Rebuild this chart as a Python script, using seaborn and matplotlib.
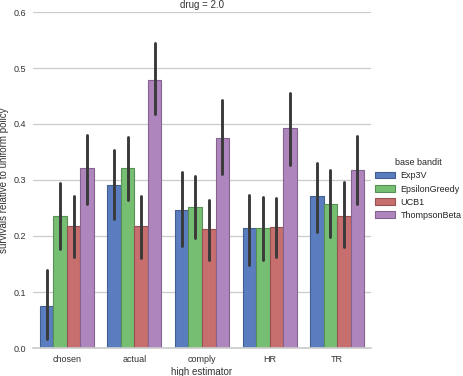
import numpy as np
import pandas as pd
import matplotlib
matplotlib.use("Agg")
import matplotlib.pyplot as plt
import matplotlib.colors as mcolors
import seaborn as sns

categories = ["chosen", "actual", "comply", "HR", "TR"]
bandits = ["Exp3V", "EpsilonGreedy", "UCB1", "ThompsonBeta"]

# bar heights (per bandit, across categories)
values = {
    "Exp3V":         [0.075, 0.291, 0.246, 0.215, 0.272],
    "EpsilonGreedy": [0.236, 0.322, 0.252, 0.214, 0.257],
    "UCB1":          [0.218, 0.218, 0.212, 0.216, 0.236],
    "ThompsonBeta":  [0.322, 0.479, 0.375, 0.393, 0.318],
}
lower = {
    "Exp3V":         [0.016, 0.230, 0.182, 0.148, 0.208],
    "EpsilonGreedy": [0.176, 0.264, 0.196, 0.158, 0.198],
    "UCB1":          [0.163, 0.160, 0.158, 0.163, 0.180],
    "ThompsonBeta":  [0.257, 0.418, 0.310, 0.327, 0.257],
}
upper = {
    "Exp3V":         [0.140, 0.353, 0.315, 0.274, 0.330],
    "EpsilonGreedy": [0.295, 0.377, 0.307, 0.269, 0.317],
    "UCB1":          [0.271, 0.271, 0.265, 0.267, 0.296],
    "ThompsonBeta":  [0.381, 0.545, 0.442, 0.455, 0.378],
}
colors = ["#4878CF", "#6ACC65", "#D65F5F", "#B47CC7"]

rows = []
for b in bandits:
    for i, c in enumerate(categories):
        for v in (lower[b][i], values[b][i], upper[b][i]):
            rows.append({"high estimator": c, "base bandit": b, "val": v})
df = pd.DataFrame(rows)

sns.set_theme(style="whitegrid")
plt.rcParams["font.family"] = ["Liberation Sans", "DejaVu Sans"]

fig = plt.figure(figsize=(4.64, 3.76), dpi=100)
ax = fig.add_axes([33 / 464, 1 - 348 / 376, (371 - 33) / 464, (348 - 12) / 376])

sns.barplot(data=df, x="high estimator", y="val", hue="base bandit",
            order=categories, hue_order=bandits, palette=colors,
            estimator="median", errorbar=("pi", 100), saturation=0.75,
            err_kws={"color": "#3a3a3a", "linewidth": 2.1}, ax=ax)

for p in ax.patches:
    fc = p.get_facecolor()
    dark = tuple(np.array(mcolors.to_rgb(fc)) * 0.75)
    p.set_edgecolor(dark)
    p.set_linewidth(0.8)

ax.set_ylim(0, 0.6)
ax.set_yticks([0.0, 0.1, 0.2, 0.3, 0.4, 0.5, 0.6])
ax.set_yticklabels(["0.0", "0.1", "0.2", "0.3", "0.4", "0.5", "0.6"])
ax.tick_params(axis="both", labelsize=6.5, colors="#333333", length=0, pad=5)
ax.grid(axis="y", color="#cccccc", linewidth=0.9)
ax.grid(axis="x", visible=False)
for s in ["top", "right", "left"]:
    ax.spines[s].set_visible(False)
ax.spines["bottom"].set_color("#cccccc")
ax.set_xlabel("high estimator", fontsize=7, color="#333333", labelpad=2)
ax.set_ylabel("survivals relative to uniform policy", fontsize=7, color="#333333", labelpad=3)
ax.set_title("drug = 2.0", fontsize=7, color="#333333", pad=3)

handles, labels = ax.get_legend_handles_labels()
ax.legend_.remove()
fig.legend(handles, labels, title="base bandit", loc="center left",
           bbox_to_anchor=(375 / 464, 1 - 189 / 376), frameon=False,
           fontsize=6.5, title_fontsize=6.5, handlelength=2.2, handleheight=0.7,
           labelspacing=0.45, handletextpad=0.65, borderaxespad=0, borderpad=0)

fig.savefig("out.png", dpi=100)
